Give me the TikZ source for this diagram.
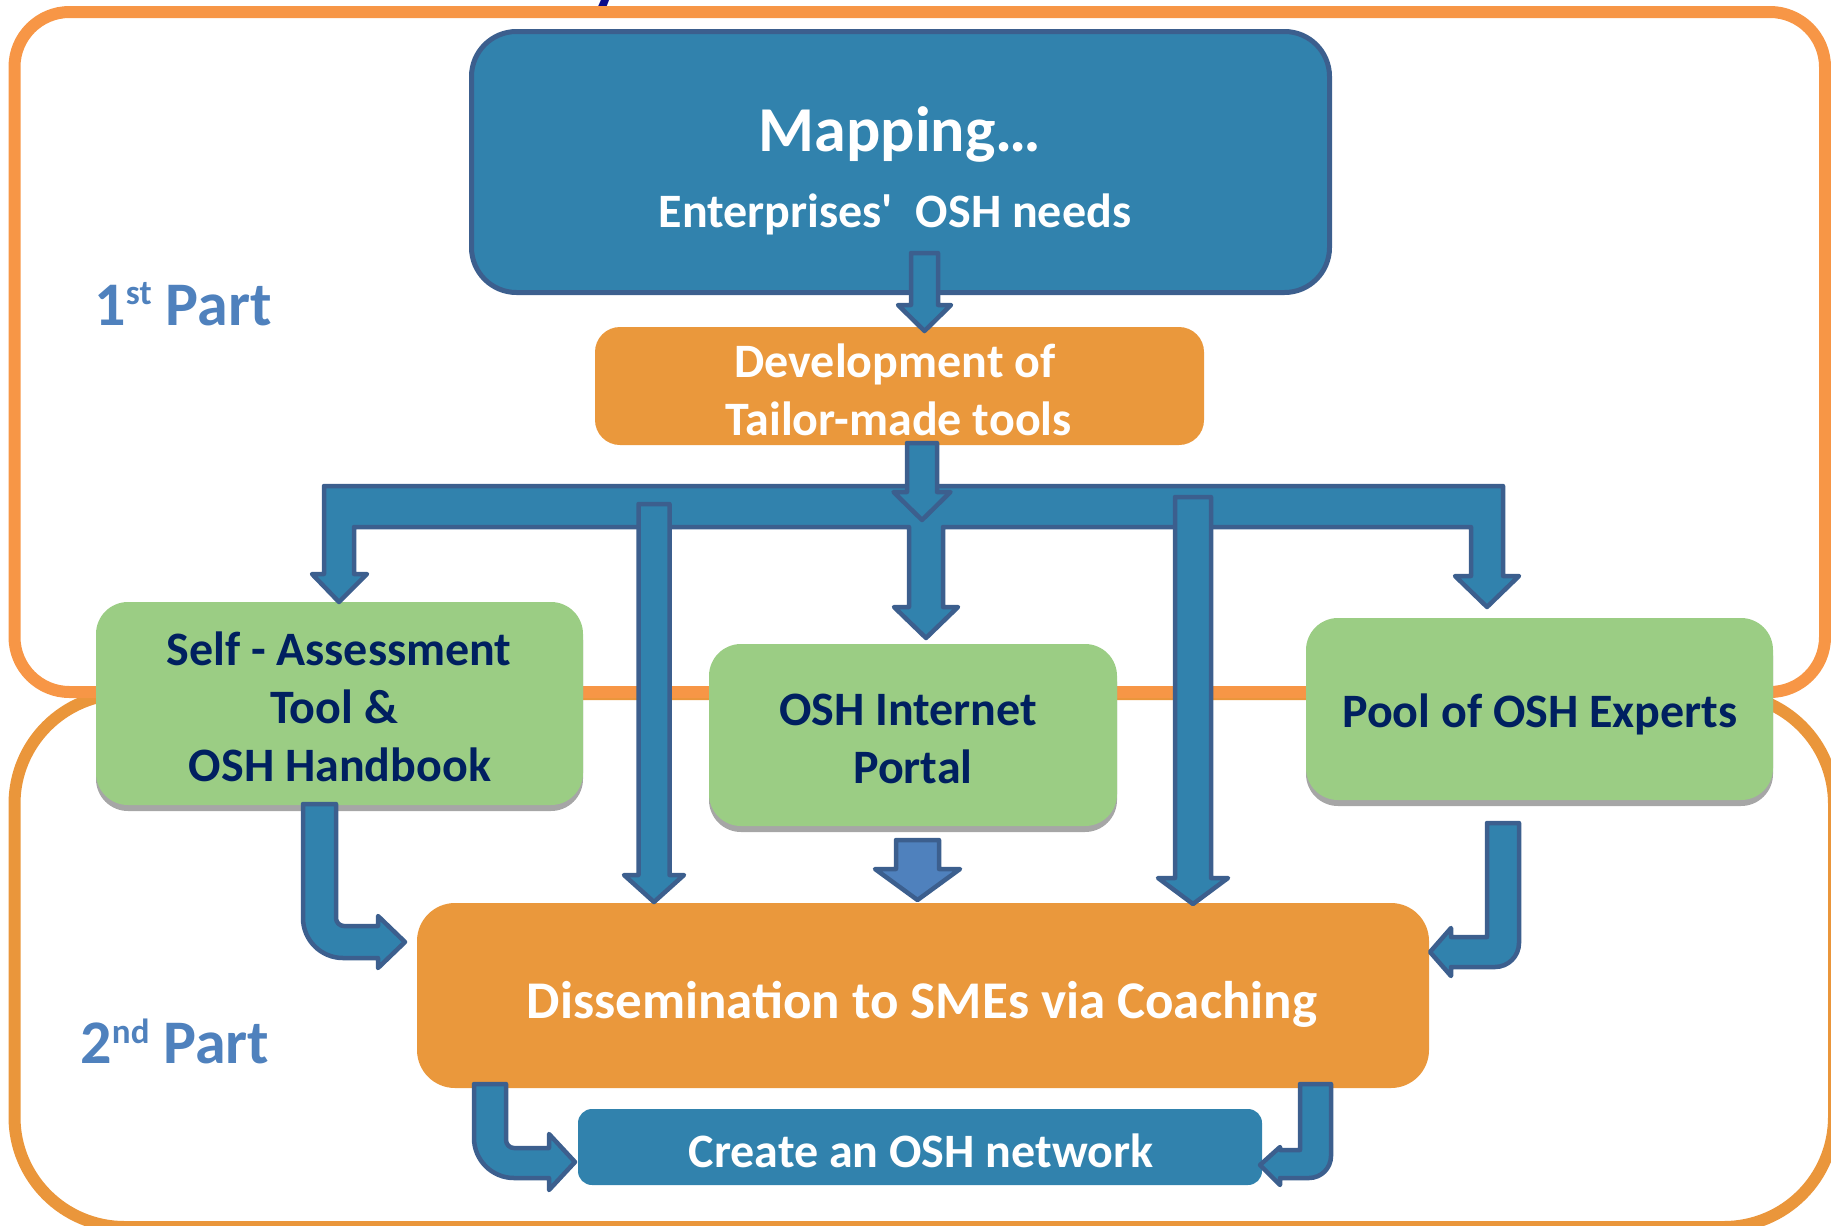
\documentclass[tikz,border=0pt]{standalone}
\usepackage{fontspec}
\setmainfont{Carlito}[Ligatures=TeXOff]
\usetikzlibrary{shadows}

\definecolor{blueFill}{HTML}{3182AD}
\definecolor{blueEdge}{HTML}{3C5F8E}
\definecolor{lightBlue}{HTML}{4F81BD}
\definecolor{boxOrange}{HTML}{EA983C}
\definecolor{frameTop}{HTML}{F79646}
\definecolor{frameBot}{HTML}{EA963B}
\definecolor{boxGreen}{HTML}{9BCD84}
\definecolor{navy}{HTML}{002060}
\definecolor{shadowGray}{HTML}{A6A6A6}
\definecolor{titleNavy}{HTML}{0B0B8A}

% straight block arrow pointing down:
% [style]{centre x}{top}{shaft half width}{head base}{head half width}{tip}
\newcommand{\downblock}[7][blockarrow]{%
  \draw[#1] ({#2-#4},#3) -- ({#2+#4},#3) -- ({#2+#4},#5) -- ({#2+#6},#5)
    -- (#2,#7) -- ({#2-#6},#5) -- ({#2-#4},#5) -- cycle;}

\begin{document}
\begin{tikzpicture}[x=1pt,y=-1pt,line join=round,
  frame/.style={line width=12pt},
  blockarrow/.style={fill=blueFill,draw=blueEdge,line width=4.5pt},
  lightarrow/.style={fill=lightBlue,draw=blueEdge,line width=4.5pt},
  greenbox/.style={rectangle,rounded corners=32pt,fill=boxGreen,
    drop shadow={shadow xshift=0pt,shadow yshift=-6pt,fill=shadowGray,opacity=1}},
  orangebox/.style={rectangle,fill=boxOrange},
  greentext/.style={anchor=base,text=navy,font=\fontsize{48}{56}\selectfont\bfseries},
  whitetext/.style={anchor=base,text=white,font=\fontsize{48}{56}\selectfont\bfseries},
  partlabel/.style={anchor=base west,text=lightBlue,font=\fontsize{62}{70}\selectfont\bfseries}]

\useasboundingbox (0,0) rectangle (1831,1226);

% tail of the clipped heading above the frame
\node[anchor=base,text=titleNavy,inner sep=0pt,
  font=\fontsize{72}{72}\selectfont\bfseries] (headtail) at (607,1) {y};

% the two part frames
\draw[frame,draw=frameBot,rounded corners=110pt] (14.5,694) rectangle (1834,1227);
\draw[frame,draw=frameTop,rounded corners=55pt] (14.5,12) rectangle (1825,692);

% boxes
\node[rectangle,rounded corners=45pt,fill=blueFill,draw=blueEdge,line width=5pt,
  minimum width=858pt,minimum height=261pt] (map) at (900.5,162) {};
\node[orangebox,rounded corners=25pt,minimum width=609pt,minimum height=118pt]
  (dev) at (899.5,386) {};
\node[greenbox,minimum width=487pt,minimum height=203pt] (self) at (339.5,703.5) {};
\node[greenbox,minimum width=408pt,minimum height=182pt] (portal) at (913,735) {};
\node[greenbox,minimum width=467pt,minimum height=182pt] (pool) at (1539.5,709) {};
\node[orangebox,rounded corners=38pt,minimum width=1012pt,minimum height=185pt]
  (diss) at (923,995.5) {};
\node[rectangle,rounded corners=14pt,fill=blueFill,minimum width=684pt,
  minimum height=76pt] (create) at (920,1147) {};

% texts
\node[whitetext,font=\fontsize{64}{72}\selectfont\bfseries] (maptitle) at (900,151) {Mapping…};
\node[whitetext] (mapsub) at (895,227)
  {Enterprises'\hspace{0.25em} OSH needs};
\node[whitetext] (dev1) at (895,377) {Development of};
\node[whitetext] (dev2) at (898.5,435) {Tailor-made tools};
\node[greentext] (self1) at (339,665) {Self - Assessment};
\node[greentext] (self2) at (334,723) {Tool \&};
\node[greentext] (self3) at (340,781) {OSH Handbook};
\node[greentext] (portal1) at (908,725) {OSH Internet};
\node[greentext] (portal2) at (913,783) {Portal};
\node[greentext] (pooltext) at (1540,727) {Pool of OSH Experts};
\node[whitetext,font=\fontsize{53}{60}\selectfont\bfseries] (disstext) at (922,1018)
  {Dissemination to SMEs via Coaching};
\node[whitetext] (createtext) at (921,1167)
  {Create an OSH network};
\node[partlabel] (part1) at (91,325)
  {1\raisebox{21pt}{\fontsize{35}{35}\selectfont st} Part};
\node[partlabel] (part2) at (77,1063)
  {2\raisebox{20pt}{\fontsize{35}{35}\selectfont nd} Part};

% mapping -> development
\downblock{924.5}{253}{13.5}{305}{26.5}{331}

% distribution bar with its three branch arrows
\draw[blockarrow] (324,486) -- (1503,486) -- (1503,576) -- (1519,576) -- (1487,607)
  -- (1455,576) -- (1471,576) -- (1471,527) -- (943,527) -- (943,607) -- (958,607)
  -- (926,638) -- (894,607) -- (909,607) -- (909,527) -- (354,527) -- (354,574)
  -- (367,574) -- (339,602) -- (312,574) -- (324,574) -- cycle;

% development -> bar
\downblock{922}{443}{15}{492}{28.5}{520}

% long arrows from the bar down to the dissemination box
\downblock{654}{504}{15.5}{875}{30}{902}
\downblock{1193}{497}{18}{878}{35}{904}

% portal -> dissemination
\downblock[lightarrow]{917.5}{840}{21.5}{869}{42.5}{900}

% handbook -> dissemination (bent)
\draw[blockarrow] (303,804) -- (336,804) [rounded corners=8pt] -- (336,926)
  [sharp corners] -- (378,926) -- (378,916) -- (405,942) -- (378,968) -- (378,958)
  [rounded corners=40pt] -- (303,958) [sharp corners] -- cycle;

% experts -> dissemination (bent)
\draw[blockarrow] (1487,823) -- (1519,823) [rounded corners=24pt] -- (1519,967)
  [sharp corners] -- (1451,967) -- (1451,976) -- (1430,952) -- (1451,928)
  -- (1451,937) -- (1487,937) -- cycle;

% dissemination -> network (left, bent)
\draw[blockarrow] (474,1084) -- (506,1084) [rounded corners=8pt] -- (506,1148)
  [sharp corners] -- (549,1148) -- (549,1134) -- (575,1162) -- (549,1190)
  -- (549,1178) [rounded corners=40pt] -- (474,1178) [sharp corners] -- cycle;

% dissemination -> network (right, bent)
\draw[blockarrow] (1300,1084) -- (1331,1084) [rounded corners=22pt] -- (1331,1178)
  [sharp corners] -- (1280,1178) -- (1280,1185) -- (1260,1165) -- (1280,1147)
  -- (1280,1150) -- (1300,1150) -- cycle;

\end{tikzpicture}
\end{document}
